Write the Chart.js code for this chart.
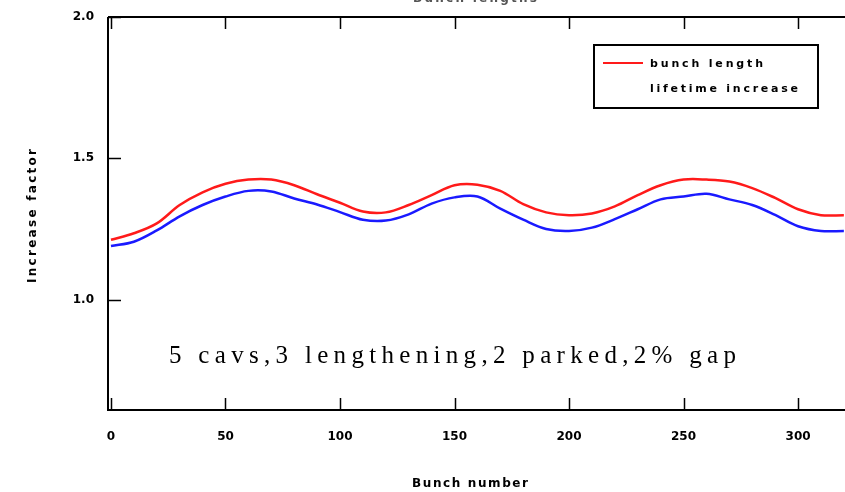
<!DOCTYPE html>
<html lang="en">
<head>
  <meta charset="UTF-8">
  <title>Increase factor vs bunch number</title>
  <script src="https://cdn.jsdelivr.net/npm/chart.js"></script>
  <style>
    body {
      margin: 0;
      background: #fff;
    }
    .wrap {
      width: 845px;
      height: 492px;
    }
  </style>
</head>
<body>

<div class="wrap">
  <canvas id="chart" width="845" height="492"></canvas>
</div>

<script>
  // values, every 10 bunches
  const bunches = [0, 10, 20, 30, 40, 50, 60, 70, 80, 90, 100, 110, 120, 130, 140, 150, 160,
                   170, 180, 190, 200, 210, 220, 230, 240, 250, 260, 270, 280, 290, 300, 310, 320];
  const bunchLength = [1.212, 1.235, 1.27, 1.335, 1.38, 1.41, 1.425, 1.425, 1.405, 1.373, 1.343,
                       1.312, 1.309, 1.335, 1.37, 1.405, 1.407, 1.385, 1.338, 1.309, 1.299, 1.305,
                       1.33, 1.37, 1.405, 1.425, 1.425, 1.418, 1.395, 1.36, 1.32, 1.299, 1.299];
  const lifetimeIncrease = [1.19, 1.205, 1.245, 1.295, 1.335, 1.365, 1.385, 1.383, 1.358, 1.337, 1.31,
                            1.283, 1.28, 1.302, 1.34, 1.362, 1.365, 1.322, 1.283, 1.25, 1.243, 1.255,
                            1.285, 1.32, 1.355, 1.365, 1.375, 1.355, 1.335, 1.30, 1.26, 1.243, 1.243];

  const xTicks = [0, 50, 100, 150, 200, 250, 300];
  const yTicks = [1.0, 1.5, 2.0];
  const yTickLabels = ["1.0", "1.5", "2.0"];
  const seriesNames = ["bunch length", "lifetime increase"];
  const note = "5 cavs,3 lengthening,2 parked,2% gap";

  const toPoints = vals => vals.map((v, i) => ({ x: bunches[i], y: v }));

  // write text stretched to a given width with letter spacing
  function spaced(c, text, x, y, width) {
    c.letterSpacing = '0px';
    const w = c.measureText(text).width;
    c.letterSpacing = Math.max(0, (width - w) / (text.length - 1)).toFixed(2) + 'px';
    c.fillText(text, x, y);
    c.letterSpacing = '0px';
  }

  // axes, ticks, labels, legend and the note are drawn here
  const frame = {
    id: 'frame',
    afterDraw(chart) {
      const c = chart.ctx;
      const a = chart.chartArea;
      const xs = chart.scales.x;
      const ys = chart.scales.y;
      c.save();
      c.strokeStyle = '#000';
      c.fillStyle = '#000';

      // box lines
      c.lineWidth = 2;
      c.beginPath();
      c.moveTo(a.left, a.top);
      c.lineTo(a.right, a.top);
      c.moveTo(a.left, a.top);
      c.lineTo(a.left, a.bottom);
      c.lineTo(a.right, a.bottom);
      c.stroke();

      // inward ticks
      c.lineWidth = 1.5;
      c.beginPath();
      xTicks.forEach(t => {
        const px = Math.round(xs.getPixelForValue(t)) + 0.5;
        c.moveTo(px, a.bottom);
        c.lineTo(px, a.bottom - 12);
        c.moveTo(px, a.top);
        c.lineTo(px, a.top + 12);
      });
      yTicks.forEach(t => {
        const py = Math.round(ys.getPixelForValue(t)) + 0.5;
        c.moveTo(a.left, py);
        c.lineTo(a.left + 13, py);
      });
      c.stroke();

      // tick labels
      c.font = 'bold 12px "DejaVu Sans"';
      c.textAlign = 'center';
      c.textBaseline = 'middle';
      xTicks.forEach(t => c.fillText(String(t), xs.getPixelForValue(t), 437));
      c.textAlign = 'right';
      yTicks.forEach((t, i) => c.fillText(yTickLabels[i], 94, ys.getPixelForValue(t)));

      // axis titles
      c.textAlign = 'left';
      spaced(c, 'Bunch number', 412, 484, 116);
      c.save();
      c.translate(33, 283);
      c.rotate(-Math.PI / 2);
      spaced(c, 'Increase factor', 0, 0, 134);
      c.restore();

      // top title, mostly cut off by the picture edge
      c.fillStyle = '#555';
      c.textBaseline = 'bottom';
      spaced(c, 'Bunch lengths', 413, 5, 124);

      // legend box
      c.fillStyle = '#fff';
      c.fillRect(594, 45, 224, 63);
      c.strokeStyle = '#000';
      c.lineWidth = 2;
      c.strokeRect(594, 45, 224, 63);
      c.strokeStyle = '#ff1a1a';
      c.lineWidth = 2;
      c.beginPath();
      c.moveTo(603, 63);
      c.lineTo(643, 63);
      c.stroke();
      c.fillStyle = '#000';
      c.textBaseline = 'middle';
      c.font = 'bold 11px "DejaVu Sans"';
      spaced(c, seriesNames[0], 650, 64, 113);
      spaced(c, seriesNames[1], 650, 89, 148);

      // note in the plot
      c.font = '25px "Liberation Serif"';
      c.textBaseline = 'alphabetic';
      spaced(c, note, 169, 363, 567);
      c.restore();
    }
  };

  const ctx = document.getElementById('chart').getContext('2d');
  new Chart(ctx, {
    type: 'line',
    data: {
      datasets: [{
        label: seriesNames[0],
        data: toPoints(bunchLength),
        borderColor: '#ff1a1a',
        borderWidth: 2.5,
        pointRadius: 0,
        tension: 0.35,
        fill: false
      }, {
        label: seriesNames[1],
        data: toPoints(lifetimeIncrease),
        borderColor: '#1a1aff',
        borderWidth: 2.5,
        pointRadius: 0,
        tension: 0.35,
        fill: false
      }]
    },
    options: {
      responsive: false,
      animation: false,
      layout: {
        padding: { left: 108, right: 0, top: 17, bottom: 82 }
      },
      plugins: {
        legend: { display: false },
        tooltip: { enabled: false }
      },
      scales: {
        x: { type: 'linear', min: -1.3, max: 320.5, display: false },
        y: { min: 0.61, max: 2.0, display: false }
      }
    },
    plugins: [frame]
  });
</script>

</body>
</html>
